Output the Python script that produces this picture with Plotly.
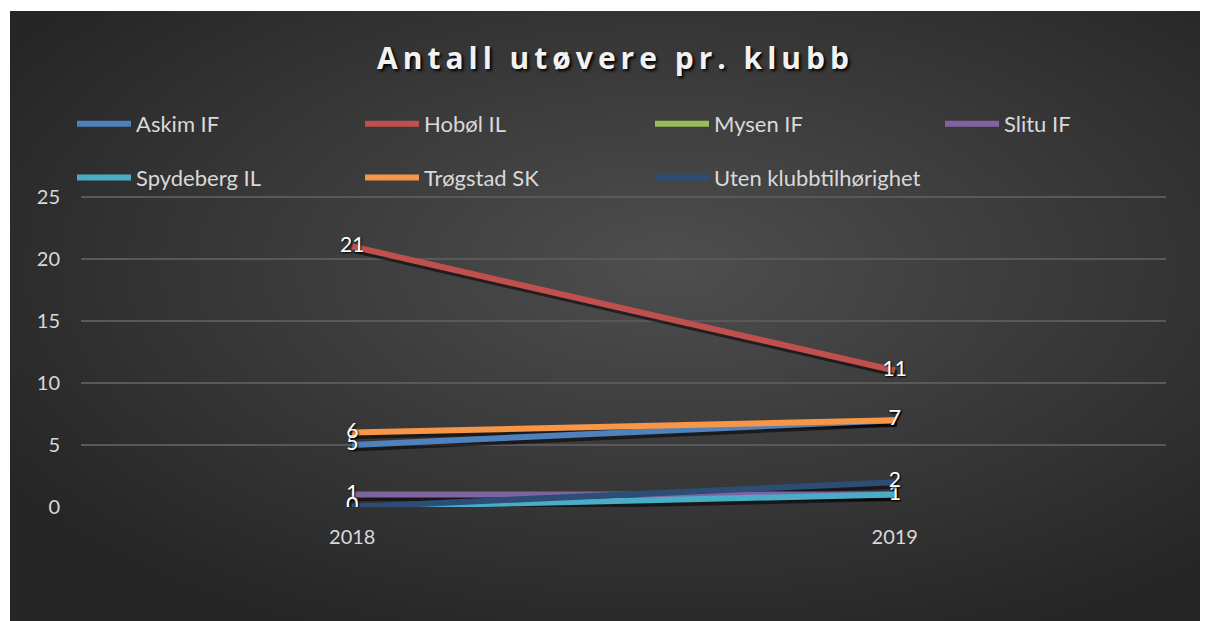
import base64
import plotly.graph_objects as go

years = ["2018", "2019"]
series_names = ["Askim IF", "Hobøl IL", "Mysen IF", "Slitu IF",
                "Spydeberg IL", "Trøgstad SK", "Uten klubbtilhørighet"]
askim = [5, 7]
hobol = [21, 11]
mysen = [None, None]
slitu = [1, 1]
spydeberg = [0, 1]
trogstad = [6, 7]
uten = [0, 2]
values = [askim, hobol, mysen, slitu, spydeberg, trogstad, uten]
colors = ["#4f81bd", "#c0504d", "#9bbb59", "#8064a2", "#4bacc6", "#f79646", "#2c4d75"]
legend_cols = ["legend", "legend2", "legend3", "legend4", "legend", "legend2", "legend3"]
y_ticks = [0, 5, 10, 15, 20, 25]

FONT = "Lato, Open Sans, sans-serif"
W, H = 1200, 613           # page body has an 8px margin
L, R, T, B = 73, 42, 187, 114
pw, ph = W - L - R, H - T - B
XR = [-0.5, 1.5]
YR = [0, 25.15]

def px_x(p):
    return (p - L) / pw

def px_y(p):
    return (H - B - p) / ph

svg = ('<svg xmlns="http://www.w3.org/2000/svg" width="1198" height="610" '
       'viewBox="0 0 1198 610" preserveAspectRatio="none">'
       '<defs><radialGradient id="g" cx="55%" cy="42%" r="65%">'
       '<stop offset="0" stop-color="#4e4e4e"/><stop offset="1" stop-color="#262626"/>'
       '</radialGradient></defs><rect width="1198" height="610" fill="url(#g)"/></svg>')
src = "data:image/svg+xml;base64," + base64.b64encode(svg.encode()).decode()

# shadow offset expressed through shifted axis ranges (2px right, 3px down)
dx = 2 * (XR[1] - XR[0]) / pw
dy = 3 * (YR[1] - YR[0]) / ph

fig = go.Figure()
xs = list(range(len(years)))
for name, vals in zip(series_names, values):
    fig.add_trace(go.Scatter(
        x=xs, y=vals, mode="lines", showlegend=False, hoverinfo="skip",
        line=dict(color="rgba(0,0,0,0.55)", width=7),
        xaxis="x", yaxis="y"))
for name, vals, col, lg in zip(series_names, values, colors, legend_cols):
    fig.add_trace(go.Scatter(
        x=xs, y=vals, name=name, mode="lines+text",
        line=dict(color=col, width=6),
        text=[("" if v is None else str(v)) for v in vals],
        textposition="middle center",
        textfont=dict(family=FONT, size=21, color="#ffffff",
                      shadow="1px 1px 2px #000000"),
        legend=lg, legendgroup=name,
        xaxis="x2", yaxis="y2",
        hoverinfo="skip",
    ))

def legend_at(xpix):
    return dict(orientation="v", x=px_x(xpix), y=px_y(95), xanchor="left", yanchor="top",
                itemwidth=54, tracegroupgap=22, bgcolor="rgba(0,0,0,0)",
                font=dict(family=FONT, size=22, color="#d9d9d9"),
                itemclick=False, itemdoubleclick=False)

title_text = "\u2009".join("Antall utøvere pr. klubb")

fig.update_layout(
    width=W, height=H,
    margin=dict(l=L, r=R, t=T, b=B),
    paper_bgcolor="#2a2a2a", plot_bgcolor="rgba(0,0,0,0)",
    title=dict(text="<b>" + title_text + "</b>", x=0.5 + 5 / W, xanchor="center",
               y=1 - 50 / H, yanchor="middle",
               font=dict(family="Open Sans, sans-serif", size=30, color="#f2f2f2",
                         shadow="2px 2px 3px #000000")),
    legend=legend_at(64),
    legend2=legend_at(352),
    legend3=legend_at(642),
    legend4=legend_at(932),
    xaxis=dict(range=[XR[0] - dx, XR[1] - dx], showticklabels=False, ticks="",
               showgrid=False, zeroline=False, showline=False),
    yaxis=dict(range=[YR[0] + dy, YR[1] + dy], showticklabels=False, ticks="",
               showgrid=False, zeroline=False, showline=False),
    xaxis2=dict(overlaying="x", side="bottom", tickmode="array", tickvals=xs,
                ticktext=years, range=XR,
                showgrid=False, zeroline=False, showline=False, ticks="",
                ticklabelstandoff=16,
                tickfont=dict(family=FONT, size=20, color="#d9d9d9")),
    yaxis2=dict(overlaying="y", side="left", range=YR, tickvals=y_ticks,
                showgrid=True, gridcolor="#595959", gridwidth=1.5,
                zeroline=False, showline=False, ticks="", ticklabelstandoff=20,
                tickfont=dict(family=FONT, size=20, color="#d9d9d9")),
    images=[dict(source=src, xref="paper", yref="paper",
                 x=px_x(2), y=px_y(3),
                 sizex=(W - 2) / pw, sizey=(H - 3) / ph,
                 xanchor="left", yanchor="top", sizing="stretch", layer="below")],
    shapes=[
        dict(type="rect", xref="paper", yref="paper", x0=px_x(0), x1=px_x(W),
             y0=px_y(0), y1=px_y(3), fillcolor="#ffffff", line=dict(width=0), layer="above"),
        dict(type="rect", xref="paper", yref="paper", x0=px_x(0), x1=px_x(2),
             y0=px_y(0), y1=px_y(H), fillcolor="#ffffff", line=dict(width=0), layer="above"),
    ],
)
fig.write_html("out.html")
